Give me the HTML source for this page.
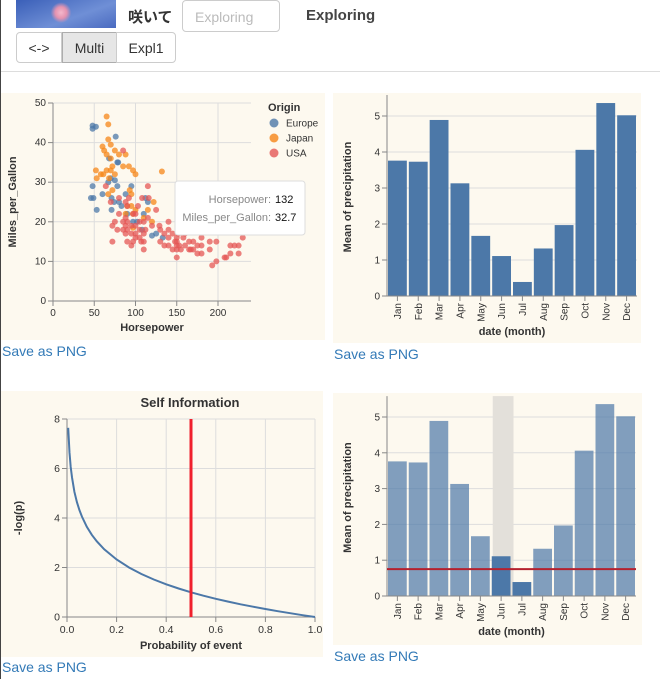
<!DOCTYPE html>
<html><head><meta charset="utf-8"><style>
body{margin:0;width:660px;height:679px;overflow:hidden;background:#fff;font-family:"Liberation Sans","Noto Sans CJK JP",sans-serif;position:relative}
.abs{position:absolute}
.btn{position:absolute;top:32px;height:31px;line-height:31px;text-align:center;font-size:14px;color:#333;border:1px solid #ccc;box-sizing:border-box;background:#fff}
.save{position:absolute;font-size:14px;color:#337ab7}
svg text{font-family:"Liberation Sans",sans-serif}
</style></head><body>
<div class="abs" style="left:16px;top:0;width:100px;height:28px;background:radial-gradient(circle at 45% 45%,#f4b8cc 0,#e493b0 10%,transparent 18%),linear-gradient(160deg,#3a5fb8,#6f8fd6 60%,#4a6ac0)"></div>
<div class="abs" style="left:128px;top:6px;font-size:15px;font-weight:bold;color:#333">咲いて</div>
<div class="abs" style="left:182px;top:0;width:98px;height:32px;border:1px solid #ccc;border-radius:4px;box-sizing:border-box;font-size:14px;color:#bbb;padding:8px 12px">Exploring</div>
<div class="abs" style="left:306px;top:7px;font-size:15px;font-weight:bold;color:#444">Exploring</div>
<div class="btn" style="left:16px;width:46px;border-radius:4px 0 0 4px">&lt;-&gt;</div>
<div class="btn" style="left:62px;width:55px;background:#e6e6e6;border-color:#adadad">Multi</div>
<div class="btn" style="left:116px;width:60px;border-radius:0 4px 4px 0">Expl1</div>
<div class="abs" style="left:0;top:71px;width:660px;height:1px;background:#ddd"></div>

<svg class="abs" style="left:0;top:0" width="660" height="679" id="main">
<rect x="0" y="93" width="325" height="247" fill="#fdf9ef"/>
<rect x="333" y="93" width="308" height="250" fill="#fdf9ef"/>
<rect x="0" y="391" width="323" height="266" fill="#fdf9ef"/>
<rect x="333" y="393" width="309" height="252" fill="#fdf9ef"/>
<g id="g1"></g><g id="g2"></g><g id="g3"></g><g id="g4"></g>
</svg>
<div class="abs" style="left:0;top:0;width:1px;height:679px;background:#444"></div>
<div class="save" style="left:2px;top:343px">Save as PNG</div>
<div class="save" style="left:334px;top:346px">Save as PNG</div>
<div class="save" style="left:2px;top:659px">Save as PNG</div>
<div class="save" style="left:334px;top:648px">Save as PNG</div>

<script>
const europeHP=[46,48,48,52,48,49,53,60,67,68,70,75,76,78,71,78,80,83,88,90,95,97,102,108,110,112,115,120,125,133,71,74,79];
const europeMPG=[26,43.5,44.3,44,29,26,23,27,30,36,31,30.5,41.5,35,26,29,25,24,27,22,29,20,20,18,22,26,25,16.5,17,16,23,25,35];
const japanHP=[65,67,60,62,65,67,70,52,53,58,61,65,68,70,72,75,70,75,80,85,88,92,97,100,95,95,90,97,100,110,115,120,122,132,67,72,88,93,97];
const japanMPG=[46.6,44.6,39,38,37,40.8,39.5,33,31,32,32,33,31,33,34,32,36,38,37,34,37,34,33,32,27,24,24,22,23,21,23,20,25,32.7,27,28,22,28,18.5];
const usaHP=[64,70,72,72,75,78,80,80,85,85,85,88,88,88,88,90,90,90,90,92,95,95,97,100,100,100,105,105,105,107,110,110,110,112,115,115,116,120,125,129,130,130,135,135,140,140,140,140,145,145,148,150,150,150,150,150,152,153,155,158,160,160,165,165,167,170,170,175,175,180,180,180,190,190,193,198,198,208,210,215,215,220,225,225,230,170,175,180,95,100,103,108,97,110];
const usaMPG=[29,25,15,19,20,18,26,22,20,18,38,25,21,19,17,24,20,18,15,26,19,17,22,19,17,16,20,18,16,15,17,15,20,18,21,29,26,19,23,19,18,15,17,14,20,18,16,14,17,13,15,16,14,13,15,11,17,14,13,16,14,17,13,15,13,15,13,14,12,16,14,12,15,13,9,10,15,11,11,12,14,14,14,12,16,18,18,18,14,22,24,26,15,13];
const months=["Jan","Feb","Mar","Apr","May","Jun","Jul","Aug","Sep","Oct","Nov","Dec"];
const precip=[3.76,3.73,4.89,3.13,1.67,1.11,0.39,1.32,1.97,4.06,5.36,5.02];
const selected=["Jun","Jul"];
const probs=[0.005,0.01,0.015,0.02,0.03,0.04,0.05,0.06,0.08,0.1,0.12,0.15,0.2,0.25,0.3,0.35,0.4,0.45,0.5,0.55,0.6,0.65,0.7,0.75,0.8,0.85,0.9,0.95,1.0];
const xTicks1=[0,50,100,150,200], yTicks1=[0,10,20,30,40,50];
const yTicks2=[0,1,2,3,4,5];
const xTicks3=[0,0.2,0.4,0.6,0.8,1.0], yTicks3=[0,2,4,6,8];
const markerP=0.5;

const NS="http://www.w3.org/2000/svg";
function mk(parent,tag,attrs,text){const e=document.createElementNS(NS,tag);for(const k in attrs)e.setAttribute(k,attrs[k]);if(text!==undefined)e.textContent=text;parent.appendChild(e);return e;}

(function(){
const g=document.getElementById('g1');
const L=53,R=251,T=103,B=301;
const x=v=>L+(v/240)*(R-L), y=v=>B-(v/50)*(B-T);
xTicks1.forEach(t=>{let l=mk(g,'line',{x1:x(t),x2:x(t),y1:T,y2:B,stroke:'#ddd'});

mk(g,'line',{x1:x(t),x2:x(t),y1:B,y2:B+5,stroke:'#888'});
let tx=mk(g,'text',{x:x(t),y:B+15,'text-anchor':'middle','font-size':10,fill:'#333'},t);
});
yTicks1.forEach(t=>{mk(g,'line',{x1:L,x2:R,y1:y(t),y2:y(t),stroke:'#ddd'});
mk(g,'line',{x1:L-5,x2:L,y1:y(t),y2:y(t),stroke:'#888'});
let tx=mk(g,'text',{x:L-7,y:y(t)+3,'text-anchor':'end','font-size':10,fill:'#333'},t);
});
mk(g,'line',{x1:L,x2:R,y1:B,y2:B,stroke:'#888'});mk(g,'line',{x1:L,x2:L,y1:T,y2:B,stroke:'#888'});
const series=[[europeHP,europeMPG,'#4c78a8'],[japanHP,japanMPG,'#f58518'],[usaHP,usaMPG,'#e45756']];
series.forEach(([hs,ms,c])=>hs.forEach((h,i)=>{const p=mk(g,'circle',{cx:x(h),cy:y(ms[i]),r:3,fill:c,opacity:0.75});
}));
let xt=mk(g,'text',{x:(L+R)/2,y:331,'text-anchor':'middle','font-size':11,'font-weight':'bold',fill:'#333'},'Horsepower');

let yt=mk(g,'text',{x:0,y:0,transform:`translate(16,${(T+B)/2}) rotate(-90)`,'text-anchor':'middle','font-size':11,'font-weight':'bold',fill:'#333'},'Miles_per_Gallon');

let lt=mk(g,'text',{x:268,y:111,'font-size':11,'font-weight':'bold',fill:'#333'},'Origin');

[['Europe','#4c78a8'],['Japan','#f58518'],['USA','#e45756']].forEach(([n,c],i)=>{
const cy=123+i*15;let lc=mk(g,'circle',{cx:274,cy:cy,r:4.5,fill:c,opacity:0.8});

mk(g,'text',{x:286,y:cy+3.5,'font-size':10,fill:'#333'},n);});
const tip=mk(g,'g',{});
mk(tip,'rect',{x:175,y:181,width:130,height:54,rx:3,fill:'#fff',stroke:'#ddd'});
mk(tip,'text',{x:271,y:203,'text-anchor':'end','font-size':11,fill:'#888'},'Horsepower:');
mk(tip,'text',{x:275,y:203,'font-size':11,fill:'#111'},'132');
mk(tip,'text',{x:271,y:221,'text-anchor':'end','font-size':11,fill:'#888'},'Miles_per_Gallon:');
mk(tip,'text',{x:275,y:221,'font-size':11,fill:'#111'},'32.7');
})();

function barChart(gid,L,R,T,B,interactive){
const g=document.getElementById(gid);
const bw=(R-L)/12;const x=i=>L+i*bw;const y=v=>B-(v/5)*( (B-T) );
yTicks2.forEach(t=>{mk(g,'line',{x1:L,x2:R,y1:y(t),y2:y(t),stroke:'#ddd'});
mk(g,'line',{x1:L-5,x2:L,y1:y(t),y2:y(t),stroke:'#888'});
let tx=mk(g,'text',{x:L-7,y:y(t)+3.5,'text-anchor':'end','font-size':10,fill:'#333'},t);
});
if(interactive){const i0=months.indexOf(selected[0]),i1=months.indexOf(selected[1]);
let br=mk(g,'rect',{x:x(i0)+2,y:y(5.5)-3,width:(i1-i0)*bw,height:B-y(5.5)+3,fill:'#e3e0da'});
}
precip.forEach((v,i)=>{const sel=!interactive||selected.includes(months[i]);
const r=mk(g,'rect',{x:x(i)+1,y:y(v),width:bw-2,height:B-y(v),fill:'#4c78a8',opacity:sel?1:0.7});

mk(g,'line',{x1:x(i)+bw/2,x2:x(i)+bw/2,y1:B,y2:B+5,stroke:'#888'});
mk(g,'text',{x:0,y:0,transform:`translate(${x(i)+bw/2+3.5},${B+7}) rotate(-90)`,'text-anchor':'end','font-size':10,fill:'#333'},months[i]);});
mk(g,'line',{x1:L,x2:R,y1:B,y2:B,stroke:'#888'});mk(g,'line',{x1:L,x2:L,y1:y(5.5)-3,y2:B,stroke:'#888'});
if(interactive){const sv=precip.filter((v,i)=>selected.includes(months[i]));const m=sv.reduce((a,b)=>a+b,0)/sv.length;
let rl=mk(g,'line',{x1:L,x2:R,y1:y(m),y2:y(m),stroke:'#b5202e','stroke-width':2});
}
let xt=mk(g,'text',{x:(L+R)/2,y:B+39,'text-anchor':'middle','font-size':11,'font-weight':'bold',fill:'#333'},'date (month)');

let yt=mk(g,'text',{x:0,y:0,transform:`translate(351,${(y(5.5)+B)/2}) rotate(-90)`,'text-anchor':'middle','font-size':11,'font-weight':'bold',fill:'#333'},'Mean of precipitation');

}
barChart('g2',387,637,116,296,false);
barChart('g4',387,636,417,596,true);

(function(){
const g=document.getElementById('g3');
const L=67,R=315,T=419,B=617;
const x=v=>L+v*(R-L), y=v=>B-(v/8)*(B-T);
xTicks3.forEach(t=>{mk(g,'line',{x1:x(t),x2:x(t),y1:T,y2:B,stroke:'#ddd'});
mk(g,'line',{x1:x(t),x2:x(t),y1:B,y2:B+5,stroke:'#888'});
let tx=mk(g,'text',{x:x(t),y:B+16,'text-anchor':'middle','font-size':10.5,fill:'#333'},t.toFixed(1));
});
yTicks3.forEach(t=>{mk(g,'line',{x1:L,x2:R,y1:y(t),y2:y(t),stroke:'#ddd'});
mk(g,'line',{x1:L-5,x2:L,y1:y(t),y2:y(t),stroke:'#888'});
let tx=mk(g,'text',{x:L-7,y:y(t)+3.5,'text-anchor':'end','font-size':10.5,fill:'#333'},t);
});
mk(g,'line',{x1:L,x2:R,y1:B,y2:B,stroke:'#888'});mk(g,'line',{x1:L,x2:L,y1:T,y2:B,stroke:'#888'});
const d=probs.map((p,i)=>(i?'L':'M')+x(p).toFixed(1)+','+y(-Math.log2(p)).toFixed(1)).join('');
let c=mk(g,'path',{d:d,fill:'none',stroke:'#4c78a8','stroke-width':2});

let r=mk(g,'line',{x1:x(markerP),x2:x(markerP),y1:T,y2:B,stroke:'#f0202c','stroke-width':3});

let ti=mk(g,'text',{x:190,y:407,'text-anchor':'middle','font-size':13,'font-weight':'bold',fill:'#333'},'Self Information');

let xt=mk(g,'text',{x:(L+R)/2,y:649,'text-anchor':'middle','font-size':11,'font-weight':'bold',fill:'#333'},'Probability of event');

let yt=mk(g,'text',{x:0,y:0,transform:`translate(22,${(T+B)/2}) rotate(-90)`,'text-anchor':'middle','font-size':11,'font-weight':'bold',fill:'#333'},'-log(p)');

})();
</script>
</body></html>
